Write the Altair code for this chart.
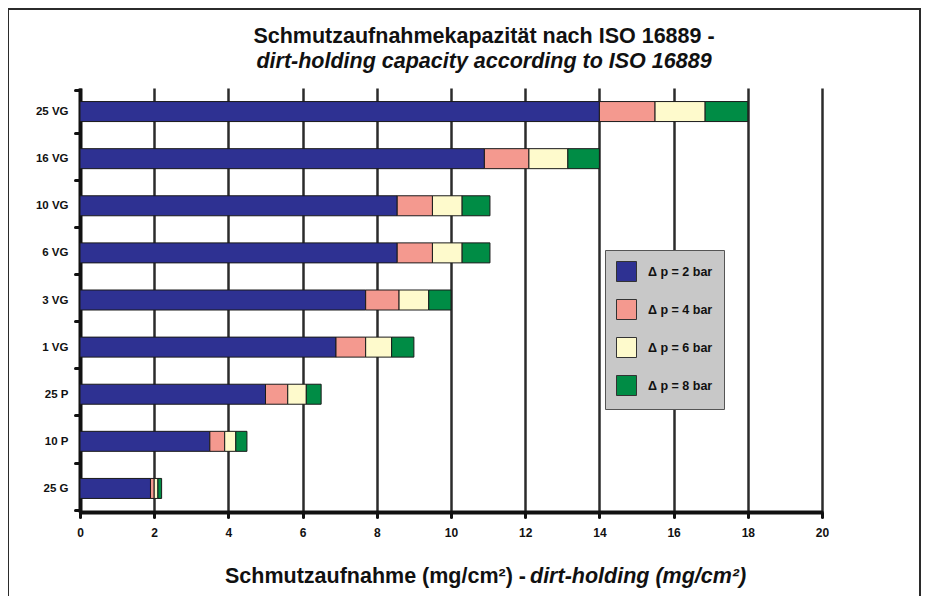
import altair as alt
import pandas as pd

categories = ["25 VG", "16 VG", "10 VG", "6 VG", "3 VG", "1 VG", "25 P", "10 P", "25 G"]
series = ["Δ p = 2 bar", "Δ p = 4 bar", "Δ p = 6 bar", "Δ p = 8 bar"]
# increments per pressure step (mg/cm²)
dp2 = [14.0, 10.9, 8.55, 8.55, 7.7, 6.9, 5.0, 3.5, 1.9]
dp4 = [1.5, 1.2, 0.95, 0.95, 0.9, 0.8, 0.6, 0.4, 0.1]
dp6 = [1.35, 1.05, 0.8, 0.8, 0.8, 0.7, 0.5, 0.3, 0.1]
dp8 = [1.15, 0.85, 0.75, 0.75, 0.6, 0.6, 0.4, 0.3, 0.1]
colors = ["#2E3192", "#F4998F", "#FEFACC", "#008C45"]
x_ticks = list(range(0, 21, 2))
title_line1 = "Schmutzaufnahmekapazität nach ISO 16889 -"
title_line2 = "dirt-holding capacity according to ISO 16889"
xtitle_de = "Schmutzaufnahme (mg/cm²) - "
xtitle_en = "dirt-holding (mg/cm²)"

rows = []
for s_i, (name, vals) in enumerate(zip(series, [dp2, dp4, dp6, dp8])):
    for c, v in zip(categories, vals):
        rows.append({"cat": c, "series": name, "order": s_i, "value": v})
df = pd.DataFrame(rows)

FONT = "Liberation Sans"
ONE = alt.Data(values=[{}])

bars = alt.Chart(df).mark_bar(size=20, stroke="#1a1a1a", strokeWidth=1).encode(
    x=alt.X("value:Q", stack="zero",
            scale=alt.Scale(domain=[0, 20], nice=False),
            axis=alt.Axis(values=x_ticks, title=None, grid=True, gridColor="#2b2b2b",
                          gridWidth=2.5, domainColor="#111", domainWidth=4,
                          tickColor="#111", tickWidth=3, tickSize=5, tickCap="round",
                          labelFont=FONT, labelFontWeight="bold", labelFontSize=12,
                          labelColor="#111", labelPadding=10, labelFlush=False)),
    y=alt.Y("cat:N", sort=categories,
            axis=alt.Axis(title=None, domainColor="#111", domainWidth=4,
                          tickBand="extent", tickColor="#111", tickWidth=3, tickSize=5,
                          tickCap="round", labelFont=FONT, labelFontWeight="bold",
                          labelFontSize=11.5, labelColor="#111", labelPadding=7, grid=False)),
    color=alt.Color("series:N", sort=series,
                    scale=alt.Scale(domain=series, range=colors),
                    legend=alt.Legend(title=None, orient="none", legendX=525, legendY=162,
                                      symbolType="square", symbolSize=400,
                                      symbolStrokeColor="#333", symbolStrokeWidth=1,
                                      symbolOpacity=1,
                                      labelFont=FONT, labelFontWeight="bold", labelFontSize=12.5,
                                      labelColor="#111", labelOffset=11, rowPadding=13,
                                      padding=11, fillColor="#C8C8C8", strokeColor="#555",
                                      cornerRadius=0)),
    order=alt.Order("order:Q", sort="ascending"),
)

frame = alt.Chart(ONE).mark_rect(
    fill=None, stroke="#2b2b2b", strokeWidth=2, clip=False
).encode(x=alt.value(-72), x2=alt.value(840), y=alt.value(-79), y2=alt.value(530))

def txt(text, x, y, size, align, italic=False):
    kw = dict(text=text, font=FONT, fontSize=size, fontWeight="bold",
              align=align, baseline="middle", color="#111")
    if italic:
        kw["fontStyle"] = "italic"
    return alt.Chart(ONE).mark_text(**kw).encode(x=alt.value(x), y=alt.value(y))

t1 = txt(title_line1, 404, -51, 21.5, "center")
t2 = txt(title_line2, 404, -26, 21.5, "center", italic=True)
xt_bold = txt(xtitle_de, 446, 489, 21.5, "right")
xt_ital = txt(xtitle_en, 450, 489, 21.5, "left", italic=True)

chart = alt.layer(frame, bars, t1, t2, xt_bold, xt_ital).properties(
    width=742, height=424,
    autosize=alt.AutoSizeParams(type="none"),
    padding={"left": 72, "top": 80, "right": 99, "bottom": 84},
    background="white",
).configure_view(stroke=None)

chart.save("out.html", embed_options={"renderer": "svg", "actions": False})
